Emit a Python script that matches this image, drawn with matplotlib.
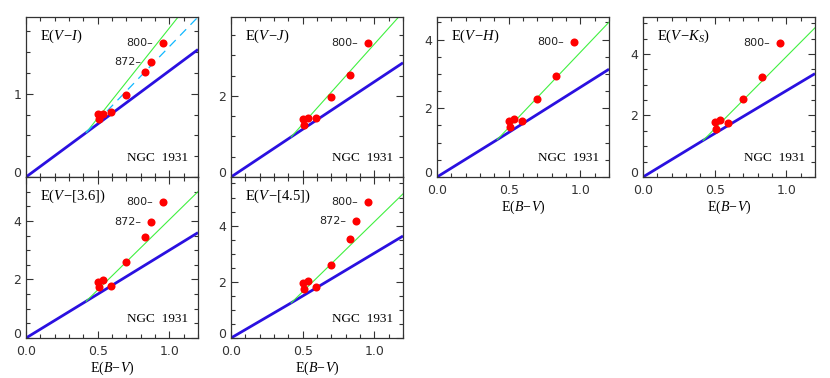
import numpy as np
import matplotlib
matplotlib.use("Agg")
import matplotlib.pyplot as plt
from matplotlib.ticker import MultipleLocator, FormatStrFormatter

plt.rcParams['mathtext.fontset'] = 'custom'
plt.rcParams['mathtext.rm'] = 'Liberation Serif'
plt.rcParams['mathtext.it'] = 'Liberation Serif:italic'
plt.rcParams['font.family'] = ['DejaVu Sans']

# E(B-V) of the stars (same for all panels)
ebv = [0.505, 0.54, 0.51, 0.59, 0.70, 0.828, 0.870, 0.957]
star_ids = ["", "", "", "", "", "", "872", "800"]

# colour excesses per panel (nan = not plotted)
e_vi = [0.76, 0.76, 0.70, 0.78, 0.98, 1.26, 1.38, 1.61]
e_vj = [1.42, 1.46, 1.28, 1.46, 1.97, 2.53, np.nan, 3.32]
e_vh = [1.63, 1.70, 1.46, 1.63, 2.26, 2.93, np.nan, 3.93]
e_vk = [1.79, 1.84, 1.57, 1.76, 2.53, 3.25, np.nan, 4.36]
e_v36 = [1.92, 1.97, 1.73, 1.76, 2.61, 3.44, 3.95, 4.64]
e_v45 = [1.96, 2.02, 1.73, 1.82, 2.60, 3.51, 4.18, 4.83]

# reddening-law lines (x nodes, y nodes)
law_x = [0.0, 0.42, 1.2]
law_vi = [0.0, 0.533, 1.53]
law_vj = [0.0, 0.99, 2.82]
law_vh = [0.0, 1.087, 3.14]
law_vk = [0.0, 1.19, 3.36]
law_v36 = [0.0, 1.257, 3.60]
law_v45 = [0.0, 1.25, 3.63]

# steeper fitted lines
fit_x = [0.42, 1.2]
fit_vi = [0.533, 2.22]
fit_vj = [0.99, 4.07]
fit_vh = [1.087, 4.51]
fit_vk = [1.19, 4.85]
fit_v36 = [1.257, 5.00]
fit_v45 = [1.25, 5.13]

# dashed line (V-I only)
dash_x = [0.42, 1.2]
dash_vi = [0.533, 1.92]

titles = [r'$\mathrm{E}(V\!-\!I)$', r'$\mathrm{E}(V\!-\!J)$', r'$\mathrm{E}(V\!-\!H)$',
          r'$\mathrm{E}(V\!-\!K_S)$', r'$\mathrm{E}(V\!-\![3.6])$', r'$\mathrm{E}(V\!-\![4.5])$']
ydata = [e_vi, e_vj, e_vh, e_vk, e_v36, e_v45]
laws = [law_vi, law_vj, law_vh, law_vk, law_v36, law_v45]
fits = [fit_vi, fit_vj, fit_vh, fit_vk, fit_v36, fit_v45]
ymax = [1.92, 3.95, 4.66, 5.2, 5.5, 5.73]
ymajor = [1, 2, 2, 2, 2, 2]

W, H = 830, 378
fig = plt.figure(figsize=(W / 100, H / 100), dpi=100)

lefts = [26, 231, 437, 643]
pw = 172
rects = [
    (lefts[0], 17, 177), (lefts[1], 17, 177), (lefts[2], 17, 177), (lefts[3], 17, 177),
    (lefts[0], 177, 338), (lefts[1], 177, 338),
]
xlabel_panels = [2, 3, 4, 5]

for i, (lx, top, bot) in enumerate(rects):
    ax = fig.add_axes([lx / W, 1 - bot / H, pw / W, (bot - top) / H])
    ax.plot(law_x, laws[i], color='#2a10e0', lw=2.0, zorder=2, solid_capstyle='butt')
    ax.plot(fit_x, fits[i], color='#40f040', lw=0.8, zorder=2)
    if i == 0:
        ax.plot(dash_x, dash_vi, color='#10b8ff', lw=0.9, ls=(0, (7, 5)), zorder=2)
    ax.plot(ebv, ydata[i], 'o', color='#ff0000', ms=5.8, mec='none', zorder=3)
    for xv, yv, sid in zip(ebv, ydata[i], star_ids):
        if sid and not np.isnan(yv):
            ax.annotate(sid + "\u2013", (xv, yv), xytext=(-7, 0), textcoords='offset points',
                        ha='right', va='center', fontsize=8, color='#222222')
    ax.set_xlim(0, 1.2)
    ax.set_ylim(0, ymax[i])
    ax.xaxis.set_major_locator(MultipleLocator(0.5))
    ax.xaxis.set_minor_locator(MultipleLocator(0.1))
    ax.yaxis.set_major_locator(MultipleLocator(ymajor[i]))
    ax.yaxis.set_minor_locator(MultipleLocator(ymajor[i] / 4))
    ax.tick_params(which='both', direction='in', top=True, right=True, colors='#333333',
                   labelsize=9, width=0.8)
    ax.tick_params(which='major', length=5)
    ax.tick_params(which='minor', length=3)
    ax.tick_params(axis='x', which='major', pad=5)
    for s in ax.spines.values():
        s.set_color('#333333')
        s.set_linewidth(0.9)
    ax.yaxis.set_major_formatter(FormatStrFormatter('%d'))
    ax.xaxis.set_major_formatter(FormatStrFormatter('%.1f'))
    if i in xlabel_panels:
        ax.set_xlabel(r'$\mathrm{E}(B\!-\!V)$', fontsize=10, labelpad=1)
    else:
        ax.tick_params(labelbottom=False)
    locs = ax.yaxis.get_majorticklocs()
    ticks = ax.yaxis.get_major_ticks(len(locs))
    for loc, t in zip(locs, ticks):
        if abs(loc) < 1e-9:
            t.label1.set_verticalalignment('baseline')
    ax.text(0.08, 0.88, titles[i], transform=ax.transAxes, fontsize=10.5,
            ha='left', va='center')
    ax.text(0.94, 0.12, 'NGC  1931', transform=ax.transAxes, fontsize=9.5,
            family='Liberation Serif', ha='right', va='center')

fig.savefig('out.png', dpi=100)
